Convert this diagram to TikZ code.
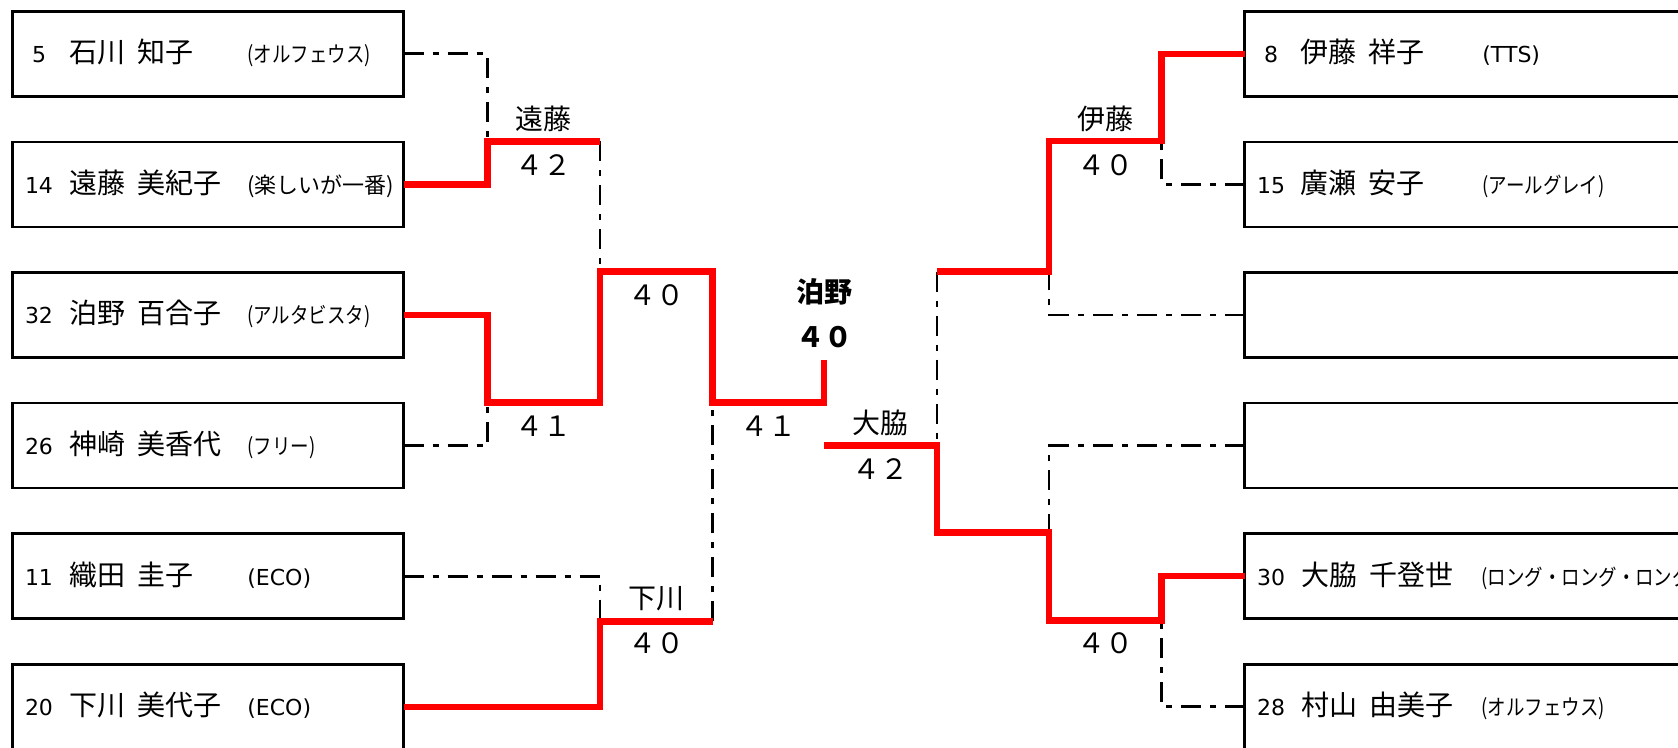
\documentclass[tikz,border=0pt]{standalone}
\usepackage{fontspec}
\setmainfont{Noto Sans CJK JP}[WordSpace=1.9]
\newfontfamily\kanafont{Noto Sans CJK JP}[FakeStretch=0.84]
\newfontfamily\latinfont{DejaVu Sans}
\usetikzlibrary{calc}
\tikzset{
  entrybox/.style={draw, line width=1.35pt, inner sep=0pt, outer sep=0pt, minimum height=42.5pt, rectangle},
  lbox/.style={entrybox, minimum width=195.5pt, anchor=west},
  rbox/.style={entrybox, minimum width=230pt, anchor=west},
  numt/.style={inner sep=0pt, anchor=base, font=\latinfont\fontsize{11}{13}\selectfont},
  namet/.style={inner sep=0pt, anchor=base west, font=\fontsize{14}{16}\selectfont},
  teamk/.style={inner sep=0pt, anchor=base west, font=\kanafont\fontsize{11}{13}\selectfont},
  teamj/.style={inner sep=0pt, anchor=base west, font=\fontsize{11}{13}\selectfont},
  teaml/.style={inner sep=0pt, anchor=base west, font=\latinfont\fontsize{11}{13}\selectfont},
  lbl/.style={inner sep=0pt, anchor=base, font=\fontsize{14}{16}\selectfont},
  champ/.style={inner sep=0pt, anchor=base, font=\bfseries\fontsize{14}{16}\selectfont},
  win/.style={draw=red, line width=3.25pt},
  lose/.style={draw=black, line width=1.35pt, dash pattern=on 10pt off 4.5pt on 3pt off 4.5pt},
}
\begin{document}
\begin{tikzpicture}[x=0.5pt, y=-0.5pt]
\useasboundingbox (0,0) rectangle (1678,748);
\clip (0,0) rectangle (1678,748);
% ---------- left boxes
\node[lbox] (b1) at (12.5,53.8) {};
\node[lbox] (b2) at (12.5,184.4) {};
\node[lbox] (b3) at (12.5,315.0) {};
\node[lbox] (b4) at (12.5,445.6) {};
\node[lbox] (b5) at (12.5,576.2) {};
\node[lbox] (b6) at (12.5,706.8) {};
\node[numt] (b1n) at (39,62.8) {5};
\node[namet] (b1m) at (69,62.8) {石川 知子};
\node[teamk] (b1t) at (247,62.8) {(オルフェウス)};
\node[numt] (b2n) at (39,193.4) {14};
\node[namet] (b2m) at (69,193.4) {遠藤 美紀子};
\node[teamj] (b2t) at (247,193.4) {(楽しいが一番)};
\node[numt] (b3n) at (39,324.0) {32};
\node[namet] (b3m) at (69,324.0) {泊野 百合子};
\node[teamk] (b3t) at (247,324.0) {(アルタビスタ)};
\node[numt] (b4n) at (39,454.6) {26};
\node[namet] (b4m) at (69,454.6) {神崎 美香代};
\node[teamk] (b4t) at (247,454.6) {(フリー)};
\node[numt] (b5n) at (39,585.2) {11};
\node[namet] (b5m) at (69,585.2) {織田 圭子};
\node[teaml] (b5t) at (247,585.2) {(ECO)};
\node[numt] (b6n) at (39,715.8) {20};
\node[namet] (b6m) at (69,715.8) {下川 美代子};
\node[teaml] (b6t) at (247,715.8) {(ECO)};
% ---------- right boxes
\node[rbox] (r1) at (1244.5,53.8) {};
\node[rbox] (r2) at (1244.5,184.4) {};
\node[rbox] (r3) at (1244.5,315.0) {};
\node[rbox] (r4) at (1244.5,445.6) {};
\node[rbox] (r5) at (1244.5,576.2) {};
\node[rbox] (r6) at (1244.5,706.8) {};
\node[numt] (r1n) at (1271,62.8) {8};
\node[namet] (r1m) at (1300,62.8) {伊藤 祥子};
\node[teaml] (r1t) at (1482,62.8) {(TTS)};
\node[numt] (r2n) at (1271,193.4) {15};
\node[namet] (r2m) at (1300,193.4) {廣瀬 安子};
\node[teamk] (r2t) at (1482,193.4) {(アールグレイ)};
\node[numt] (r5n) at (1271,585.2) {30};
\node[namet] (r5m) at (1301,585.2) {大脇 千登世};
\node[teamk] (r5t) at (1481,585.2) {(ロング・ロング・ロング)};
\node[numt] (r6n) at (1271,715.8) {28};
\node[namet] (r6m) at (1301,715.8) {村山 由美子};
\node[teamk] (r6t) at (1481,715.8) {(オルフェウス)};
% ---------- junctions
\coordinate (q1) at (487.5,141.5);
\coordinate (s1) at (600,141.5);
\coordinate (t1) at (600,271.7);
\coordinate (q2) at (487.5,402.5);
\coordinate (s2) at (600,402.5);
\coordinate (t2) at (712.5,271.7);
\coordinate (u1) at (712.5,402.5);
\coordinate (f1) at (824,402.5);
\coordinate (fe) at (824,360);
\coordinate (q3) at (600,621.5);
\coordinate (s3) at (712.5,621.5);
\coordinate (p1) at (1161.5,141);
\coordinate (p1b) at (1049,141);
\coordinate (p2) at (1049,271.7);
\coordinate (p3) at (937,271.7);
\coordinate (g1) at (824,445.7);
\coordinate (p4) at (937,445.7);
\coordinate (p5) at (937,532.7);
\coordinate (p6) at (1049,532.7);
\coordinate (p7) at (1049,620.7);
\coordinate (p8) at (1161.5,620.7);
% ---------- losing lines
\draw[lose] (b1.east) -| (q1);
\draw[lose] (s1) -- (t1);
\draw[lose] (b4.east) -| (q2);
\draw[lose] (b5.east) -| (q3);
\draw[lose] (s3) -- (u1);
\draw[lose] (r2.west) -| (p1);
\draw[lose] (r3.west) -| (p2);
\draw[lose] (p3) -- (p4);
\draw[lose] (r4.west) -| (p6);
\draw[lose] (r6.west) -| (p8);
% ---------- winning lines
\draw[win] (b2.east) -| (q1) -- (s1);
\draw[win] (b3.east) -| (q2) -- (s2) -- (t1) -- (t2) -- (u1) -- (f1) -- (fe);
\draw[win] (b6.east) -| (q3) -- (s3);
\draw[win] (r1.west) -| (p1) -- (p1b) -- (p2) -- (p3);
\draw[win] (g1) -- (p4) -- (p5) -- (p6) -- (p7) -- (p8) |- (r5.west);
% ---------- labels
\node[lbl] (w1) at (543.75,129.5) {遠藤};
\node[lbl] (s1l) at (543.75,175.5) {４２};
\node[lbl] (s2l) at (543.75,436.5) {４１};
\node[lbl] (s3l) at (656.25,305.7) {４０};
\node[lbl] (w3) at (656.25,609) {下川};
\node[lbl] (s4l) at (656.25,654) {４０};
\node[lbl] (s5l) at (768.25,436.5) {４１};
\node[champ] (cw) at (824,303) {泊野};
\node[champ] (cs) at (824,348) {４０};
\node[lbl] (w4) at (880.5,434) {大脇};
\node[lbl] (s6l) at (880.5,480) {４２};
\node[lbl] (w5) at (1105.25,129.5) {伊藤};
\node[lbl] (s7l) at (1105.25,175.5) {４０};
\node[lbl] (s8l) at (1105.25,654) {４０};
\end{tikzpicture}
\end{document}
